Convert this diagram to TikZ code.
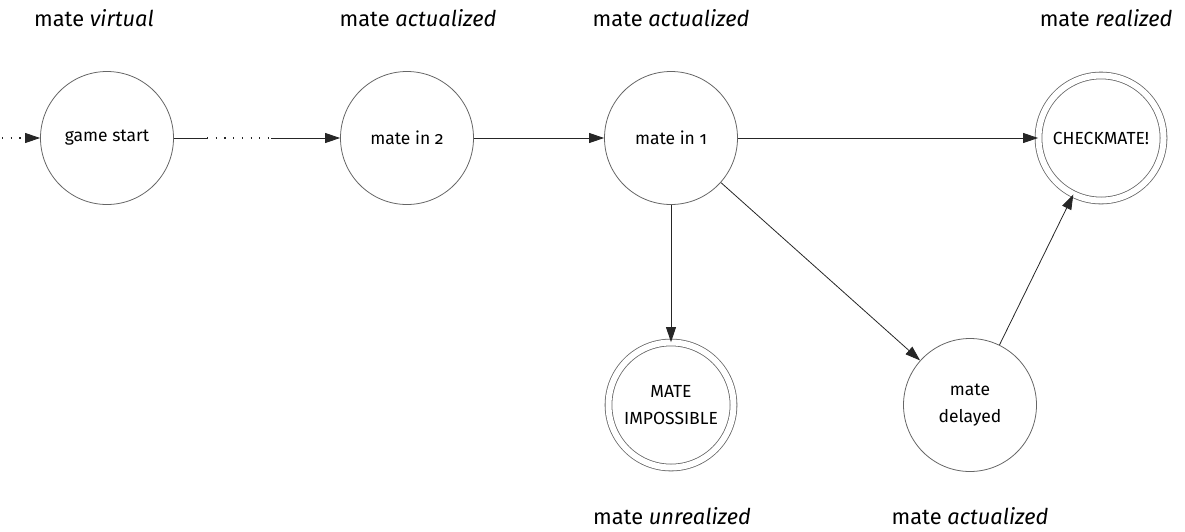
\documentclass[tikz,border=0pt]{standalone}
\usepackage{fontspec}
\setmainfont{Fira Sans}[Numbers=OldStyle]
\usetikzlibrary{arrows.meta}
\tikzset{
  state/.style={circle, draw=black!60, line width=0.8pt, minimum size=133pt, inner sep=0pt,
    align=center, font=\fontsize{17.5}{27}\selectfont},
  final/.style={state, double=white, double distance=6pt, minimum size=125pt},
  phase/.style={font=\fontsize{21.8}{24}\selectfont, inner sep=0pt},
  trans/.style={draw=black!85, line width=0.8pt, -{Triangle[length=15pt,width=10pt]}},
  loose/.style={draw=black!85, line width=1.2pt, dash pattern=on 1.2pt off 7.5pt}
}
\begin{document}
\begin{tikzpicture}[x=1pt, y=-1pt]
  \useasboundingbox (0,0) rectangle (1185,531);

  % states
  \node[state] (start) at (107,138) {game start};
  \node[state] (in2)   at (407,138) {mate in 2};
  \node[state] (in1)   at (671,138) {mate in 1};
  \node[final] (mate)  at (1101,138) {CHECKMATE!};
  \node[final] (imp)   at (671,405) {MATE\\IMPOSSIBLE};
  \node[state] (del)   at (970,405) {mate\\delayed};

  % phase labels
  \node[phase] (l1) at (94,18)   {mate \textit{virtual}};
  \node[phase] (l2) at (418,18)  {mate \textit{actualized}};
  \node[phase] (l3) at (671,18)  {mate \textit{actualized}};
  \node[phase] (l4) at (1106,18) {mate \textit{realized}};
  \node[phase] (l5) at (672,516) {mate \textit{unrealized}};
  \node[phase] (l6) at (970,516) {mate \textit{actualized}};

  % entry into the game
  \coordinate (entry) at (2,138);
  \coordinate (entryend) at (26,138);
  \draw[loose] (entry) -- (entryend);
  \draw[trans] (entryend) -- (start);

  % the long way from the opening to a forced mate
  \coordinate (gapA) at (207,138);
  \coordinate (gapB) at (271,138);
  \draw[draw=black!85, line width=0.8pt] (start) -- (gapA);
  \draw[loose] (gapA) -- (gapB);
  \draw[trans] (gapB) -- (in2);

  % transitions
  \draw[trans] (in2) -- (in1);
  \draw[trans] (in1) -- (mate);
  \draw[trans] (in1) -- (imp);
  \draw[trans] (in1) -- (del);
  \draw[trans] (del) -- (mate);
\end{tikzpicture}
\end{document}
